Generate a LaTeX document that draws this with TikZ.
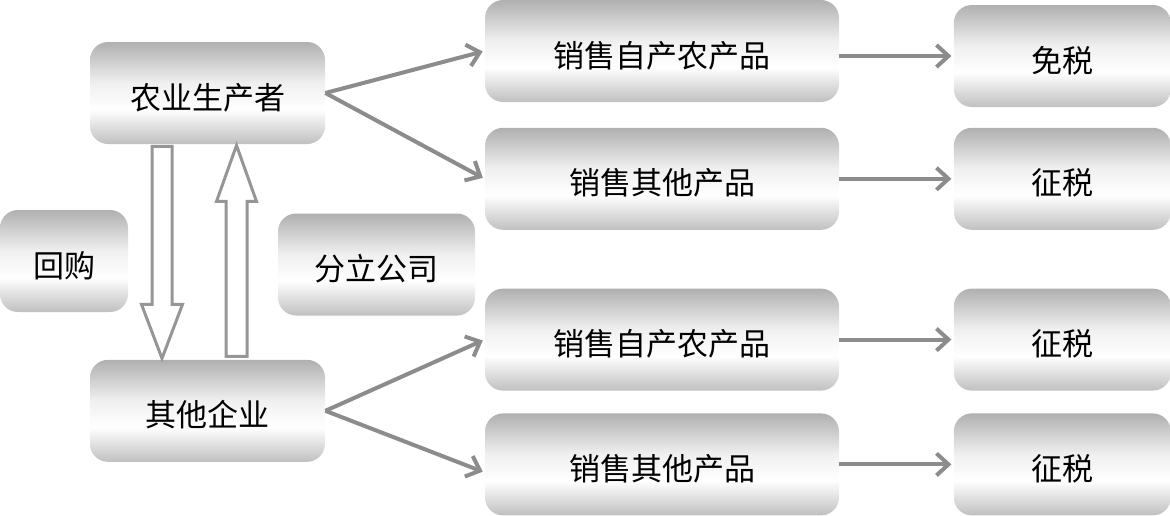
\documentclass[tikz,border=0pt]{standalone}
\usepackage{fontspec}
\usetikzlibrary{arrows.meta,positioning,calc}
\newfontfamily\cjk{Noto Sans CJK SC}
\definecolor{linegray}{RGB}{140,140,140}
\definecolor{rimgray}{RGB}{150,150,150}
\definecolor{topgray}{RGB}{176,176,176}
\definecolor{botgray}{RGB}{192,192,192}
\pgfdeclareverticalshading{boxgrad}{100bp}{color(0bp)=(botgray); color(25bp)=(botgray); color(42bp)=(white); color(55bp)=(white!94!black); color(75bp)=(topgray); color(100bp)=(topgray)}
\tikzset{
  >={Straight Barb[length=6pt,width=11pt]},
  box/.style   ={shade, shading=boxgrad, rounded corners=9pt, minimum height=51pt, text height=16pt, text depth=0pt, inner sep=0pt, font=\cjk\fontsize{15.5pt}{18pt}\selectfont},
  sale/.style  ={box, minimum width=177pt},
  tax/.style   ={box, minimum width=108.5pt},
  arr/.style   ={->, draw=linegray, line width=2pt, shorten >=1pt},
  hollow/.style={draw=rimgray, line width=1.5pt, fill=white, line join=miter}
}
\begin{document}
\begin{tikzpicture}[x=0.5pt,y=-0.5pt]
\useasboundingbox (0,0) rectangle (1170,515);
\node[box, minimum width=117.5pt] (prod) at (207.5,93) {农业生产者};
\node[box, minimum width=117.5pt, below=107.5pt of prod] (other) {其他企业};
\node[box, minimum width=64pt] (buy) at (64,261) {回购};
\node[box, minimum width=98.5pt] (split) at (376.5,264.5) {分立公司};
\node[sale] (sale1) at (662,51) {销售自产农产品};
\node[sale, below=12.5pt of sale1] (sale2) {销售其他产品};
\node[sale, below=29pt of sale2] (sale3) {销售自产农产品};
\node[sale, below=11pt of sale3] (sale4) {销售其他产品};
\node[tax, right=57pt of sale1, yshift=-2.5pt] (tax1) {免税};
\node[tax, right=57pt of sale2] (tax2) {征税};
\node[tax, right=57pt of sale3] (tax3) {征税};
\node[tax, right=57pt of sale4] (tax4) {征税};
\draw[arr] (prod.east) -- (sale1.west);
\draw[arr] (prod.east) -- (sale2.west);
\draw[arr] (other.east) -- (sale3.west);
\draw[arr] (other.east) -- ([yshift=-4pt]sale4.west);
\foreach \i in {1,...,4}
  \draw[arr] (sale\i.east |- tax\i.west) -- (tax\i.west);
\path (prod.south) ++(-45.5,0) coordinate (dtop) (other.north) ++(-45.5,0) coordinate (dtip)
      (prod.south) ++(29,0) coordinate (utip) (other.north) ++(29,0) coordinate (ubot);
\draw[hollow] ($(dtop)+(-10,2)$) -- ($(dtip)+(-10,-55)$) -- ++(-10.5,0) -- ($(dtip)+(0,-1)$)
  -- ($(dtip)+(20.5,-55)$) -- ++(-10.5,0) -- ($(dtop)+(10,2)$) -- cycle;
\draw[hollow] ($(ubot)+(-10.5,-3)$) -- ($(utip)+(-10.5,57)$) -- ++(-9.5,0) -- ($(utip)+(0,1)$)
  -- ($(utip)+(20,57)$) -- ++(-9.5,0) -- ($(ubot)+(10.5,-3)$) -- cycle;
\end{tikzpicture}
\end{document}
